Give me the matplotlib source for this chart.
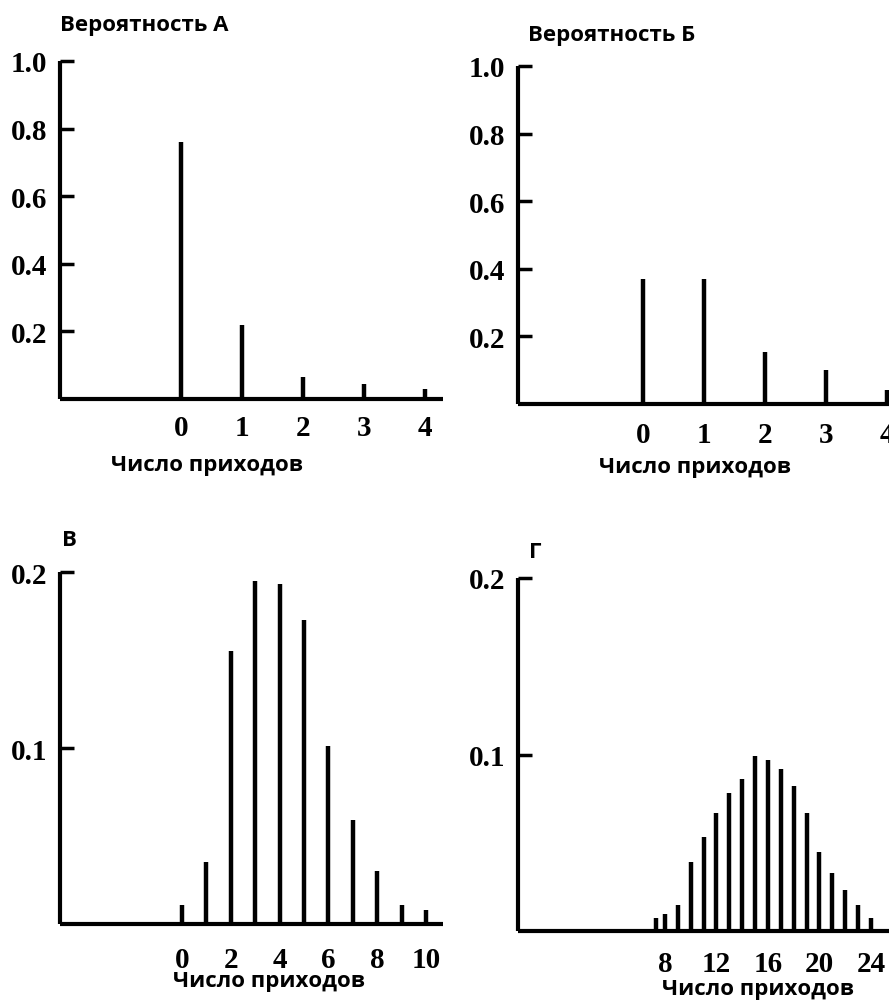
import matplotlib
matplotlib.use('Agg')
import matplotlib.pyplot as plt

W, H = 889, 1003

# panel A
xa = [0, 1, 2, 3, 4]
ya = [0.76, 0.22, 0.065, 0.045, 0.03]
# panel B
xb = [0, 1, 2, 3, 4]
yb = [0.37, 0.37, 0.155, 0.10, 0.04]
# panel V
xc = [0, 1, 2, 3, 4, 5, 6, 7, 8, 9, 10]
yc = [0.011, 0.035, 0.155, 0.195, 0.193, 0.173, 0.101, 0.059, 0.030, 0.011, 0.008]
# panel G
xd = [7.3, 8, 9, 10, 11, 12, 13, 14, 15, 16, 17, 18, 19, 20, 21, 22, 23, 24]
yd = [0.0075, 0.0097, 0.015, 0.039, 0.053, 0.067, 0.078, 0.086, 0.099, 0.097,
      0.092, 0.082, 0.067, 0.045, 0.033, 0.023, 0.015, 0.0075]

titles = ['Вероятность А', 'Вероятность Б', 'В', 'Г']
xlabel = 'Число приходов'

serif = 'Liberation Serif'
sans = 'Open Sans'

fig = plt.figure(figsize=(W / 100, H / 100), dpi=100)


def px_axes(left, right, top, bottom):
    return fig.add_axes([left / W, 1 - bottom / H, (right - left) / W, (bottom - top) / H])


def panel(ax, x, y, xlim, ylim, yticks, ylabels, xticks, xlabels, xpad):
    ax.vlines(x, 0, y, color='black', lw=3.2)
    ax.set_xlim(xlim)
    ax.set_ylim(ylim)
    for s in ['top', 'right']:
        ax.spines[s].set_visible(False)
    for s in ['left', 'bottom']:
        ax.spines[s].set_linewidth(3)
        ax.spines[s].set_capstyle('butt')
    ax.set_yticks(yticks)
    ax.set_yticklabels(ylabels, fontfamily=serif, fontsize=21, fontweight='bold')
    ax.tick_params(axis='y', direction='in', length=10, width=2.5, pad=9)
    ax.set_xticks(xticks)
    ax.set_xticklabels(xlabels, fontfamily=serif, fontsize=21, fontweight='bold')
    ax.tick_params(axis='x', length=0, pad=xpad)
    ax.patch.set_alpha(0)


yt1 = [0.2, 0.4, 0.6, 0.8, 1.0]
yl1 = ['0.2', '0.4', '0.6', '0.8', '1.0']

axA = px_axes(60, 443, 62, 400)
panel(axA, xa, ya, (-1.98, 4.3), (0, 1.0), yt1, yl1, xa, [str(v) for v in xa], 11)

axB = px_axes(518, 889, 67, 405)
panel(axB, xb, yb, (-2.05, 4.03), (0, 1.0), yt1, yl1, xb, [str(v) for v in xb], 12)

axC = px_axes(60, 443, 573, 925)
panel(axC, xc, yc, (-5.0, 10.7), (0, 0.2), [0.1, 0.2], ['0.1', '0.2'],
      [0, 2, 4, 6, 8, 10], ['0', '2', '4', '6', '8', '10'], 16)

axD = px_axes(518, 889, 579, 932)
panel(axD, xd, yd, (-3.4, 25.4), (0, 0.2), [0.1, 0.2], ['0.1', '0.2'],
      [8, 12, 16, 20, 24], ['8', '12', '16', '20', '24'], 14)


def ftext(x, y, s, size, ha='left'):
    fig.text(x / W, 1 - y / H, s, ha=ha, va='center', fontfamily=sans,
             fontweight='bold', fontsize=size)


ftext(60, 26, titles[0], 16)
ftext(528, 35, titles[1], 16)
ftext(62, 540, titles[2], 16)
ftext(529, 553, titles[3], 16)

ftext(207, 465, xlabel, 16, ha='center')
ftext(695, 468, xlabel, 16, ha='center')
ftext(269, 982, xlabel, 16, ha='center')
ftext(758, 990, xlabel, 16, ha='center')

fig.savefig('out.png', dpi=100)
